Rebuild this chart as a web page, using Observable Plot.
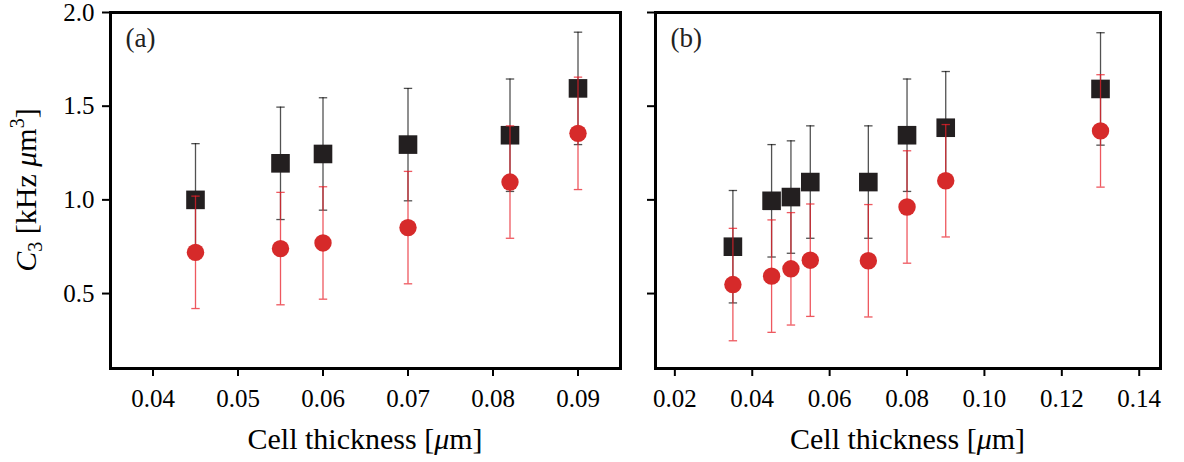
<!DOCTYPE html>
<html>
<head>
<meta charset="utf-8">
<script src="https://cdn.jsdelivr.net/npm/d3@7"></script>
<script src="https://cdn.jsdelivr.net/npm/@observablehq/plot@0.6"></script>
<style>
  html, body { margin: 0; padding: 0; background: #fff; }
  #wrap { position: relative; width: 1184px; height: 462px; overflow: hidden; }
  #wrap svg { position: absolute; top: 0; }
</style>
</head>
<body>
<div id="wrap"></div>
<script>
// ---- Panel (a) data ----
const xA = [0.045, 0.055, 0.06, 0.07, 0.082, 0.09];
const blackA = [1.0, 1.195, 1.245, 1.295, 1.345, 1.595];
const redA = [0.72, 0.74, 0.77, 0.852, 1.095, 1.355];
const errBlackA = [0.3, 0.3, 0.3, 0.3, 0.3, 0.3];
const errRedA = [0.3, 0.3, 0.3, 0.3, 0.3, 0.3];

// ---- Panel (b) data ----
const xB = [0.035, 0.045, 0.05, 0.055, 0.07, 0.08, 0.09, 0.13];
const blackB = [0.75, 0.995, 1.015, 1.095, 1.095, 1.345, 1.385, 1.592];
const redB = [0.548, 0.593, 0.632, 0.678, 0.675, 0.962, 1.102, 1.368];
const errBlackB = [0.3, 0.3, 0.3, 0.3, 0.3, 0.3, 0.3, 0.3];
const errRedB = [0.3, 0.3, 0.3, 0.3, 0.3, 0.3, 0.3, 0.3];

// ---- Tick labels ----
const xTicksA = [0.04, 0.05, 0.06, 0.07, 0.08, 0.09];
const xTicksB = [0.02, 0.04, 0.06, 0.08, 0.10, 0.12, 0.14];
const yTicks = [0.5, 1.0, 1.5, 2.0];
const panelLabels = ["(a)", "(b)"];

const FONT = "'Liberation Serif', 'DejaVu Serif', serif";
const BLACK = "#231f20";
const RED = "#d62a2a";
const TICK_FS = 25;
const TITLE_FS = 30;

const cap = {
  draw(ctx, size) {
    const w = Math.sqrt(size / Math.PI);
    ctx.moveTo(-w, 0);
    ctx.lineTo(w, 0);
  }
};

function rows(xs, ys, es) {
  return xs.map((x, i) => ({x, y: ys[i], lo: ys[i] - es[i], hi: ys[i] + es[i]}));
}

function series(data, color, symbol, r, barColor, barOpacity) {
  return [
    Plot.ruleX(data, {x: "x", y1: "lo", y2: "hi", stroke: barColor, strokeOpacity: barOpacity, strokeWidth: 1.3}),
    Plot.dot(data, {x: "x", y: "lo", symbol: cap, r: 4.2, stroke: barColor, strokeOpacity: barOpacity, strokeWidth: 1.3, fill: "none"}),
    Plot.dot(data, {x: "x", y: "hi", symbol: cap, r: 4.2, stroke: barColor, strokeOpacity: barOpacity, strokeWidth: 1.3, fill: "none"}),
    Plot.dot(data, {x: "x", y: "y", symbol, r, fill: color, stroke: "none"})
  ];
}

function panel({xs, bl, rd, eb, er, xDomain, xTicks, width, marginLeft, marginRight, showYLabels, label}) {
  const blackData = rows(xs, bl, eb);
  const redData = rows(xs, rd, er);
  const svg = Plot.plot({
    width, height: 462,
    marginLeft, marginRight, marginTop: 12, marginBottom: 94,
    style: {fontFamily: FONT, fontSize: TICK_FS + "px", color: "#000", background: "transparent", overflow: "visible"},
    x: {domain: xDomain},
    y: {domain: [0.1, 2.0]},
    marks: [
      ...series(blackData, BLACK, "square", 10.5, "#000", 0.68),
      ...series(redData, RED, "circle", 8.7, "#e8202a", 0.75),
      Plot.frame({stroke: "#000", strokeWidth: 3}),
      Plot.axisX(xTicks, {tickSize: 8, tickPadding: 13, strokeWidth: 2, fontSize: TICK_FS,
        tickFormat: d3.format(".2f"), label: null}),
      Plot.axisY(yTicks, {tickSize: 8, tickPadding: 8, strokeWidth: 2, fontSize: TICK_FS,
        tickFormat: showYLabels ? d3.format(".1f") : () => "", label: null}),
      Plot.text([label], {frameAnchor: "top-left", dx: 15, dy: 15, fontSize: 27, textAnchor: "start", lineAnchor: "top", fill: "#222"})
    ]
  });
  return svg;
}

const wrap = document.getElementById("wrap");

const svgA = panel({xs: xA, bl: blackA, rd: redA, eb: errBlackA, er: errRedA,
  xDomain: [0.035, 0.095], xTicks: xTicksA, width: 640, marginLeft: 110, marginRight: 20,
  showYLabels: true, label: panelLabels[0]});
svgA.style.left = "0px";
wrap.appendChild(svgA);

const svgB = panel({xs: xB, bl: blackB, rd: redB, eb: errBlackB, er: errRedB,
  xDomain: [0.015, 0.1455], xTicks: xTicksB, width: 544, marginLeft: 15, marginRight: 24,
  showYLabels: false, label: panelLabels[1]});
svgB.style.left = "640px";
wrap.appendChild(svgB);

// axis titles (with italic / sub / superscript parts)
function xTitle(svg, cx) {
  const t = d3.select(svg).append("text")
    .attr("x", cx).attr("y", 449).attr("text-anchor", "middle")
    .attr("font-family", FONT).attr("font-size", TITLE_FS).attr("fill", "#000");
  t.append("tspan").text("Cell thickness [");
  t.append("tspan").attr("font-style", "italic").text("μ");
  t.append("tspan").text("m]");
}
xTitle(svgA, 365);
xTitle(svgB, 15 + (544 - 15 - 24) / 2);

{
  const t = d3.select(svgA).append("text")
    .attr("transform", "translate(36,190) rotate(-90)")
    .attr("text-anchor", "middle")
    .attr("font-family", FONT).attr("font-size", TITLE_FS).attr("fill", "#000");
  t.append("tspan").attr("font-style", "italic").text("C");
  t.append("tspan").attr("font-size", 20).attr("dy", 6).text("3");
  t.append("tspan").attr("dy", -6).text(" [kHz ");
  t.append("tspan").attr("font-style", "italic").text("μ");
  t.append("tspan").text("m");
  t.append("tspan").attr("font-size", 20).attr("dy", -12).text("3");
  t.append("tspan").attr("dy", 12).text("]");
}
</script>
</body>
</html>
